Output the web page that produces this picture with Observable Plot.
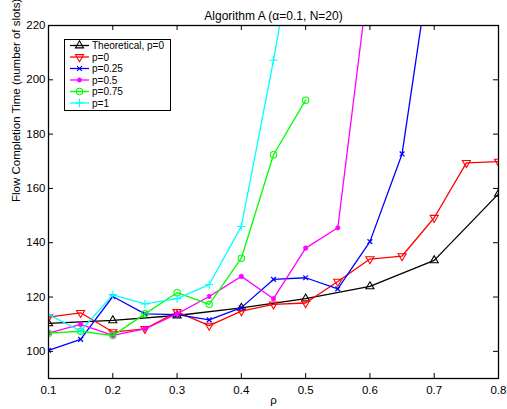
<!DOCTYPE html>
<html>
<head>
<meta charset="utf-8">
<script src="https://cdn.jsdelivr.net/npm/d3@7"></script>
<script src="https://cdn.jsdelivr.net/npm/@observablehq/plot@0.6"></script>
<style>
  html, body { margin: 0; padding: 0; background: white; }
  svg { display: block; }
</style>
</head>
<body>
<div id="chart"></div>
<script>
const titleText = "Algorithm A (\u03b1=0.1, N=20)";
const xLabel = "\u03c1";
const yLabel = "Flow Completion Time (number of slots)";

const xTicks = [0.1, 0.2, 0.3, 0.4, 0.5, 0.6, 0.7, 0.8];
const yTicks = [100, 120, 140, 160, 180, 200, 220];

const rhoTheory = [0.1, 0.2, 0.3, 0.4, 0.5, 0.6, 0.7, 0.8];
const theory = [110.3, 111.4, 113.2, 116.0, 119.4, 123.9, 133.5, 158.0];

const rho = [0.1, 0.15, 0.2, 0.25, 0.3, 0.35, 0.4, 0.45, 0.5, 0.55, 0.6, 0.65, 0.7, 0.75, 0.8];
const p0   = [112.6, 114.2, 107.1, 108.3, 114.5, 109.5, 114.8, 117.3, 117.8, 125.7, 134.0, 135.1, 149.2, 169.4, 169.9];
const p025 = [100.4, 104.4, 120.2, 113.8, 113.5, 111.6, 116.1, 126.5, 127.1, 123.0, 140.4, 172.7, 252.7];
const p05  = [106.7, 109.9, 105.9, 108.3, 113.8, 120.2, 127.6, 119.4, 138.0, 145.5, 241.0];
const p075 = [106.7, 107.4, 105.8, 113.8, 121.6, 117.3, 134.3, 172.4, 192.5];
const p1   = [113.5, 107.5, 120.8, 117.5, 119.4, 124.6, 146.0, 207.2, 274.0];

const seriesNames = ["Theoretical, p=0", "p=0", "p=0.25", "p=0.5", "p=0.75", "p=1"];
const seriesColors = ["#000000", "#ff0000", "#0000ff", "#ff00ff", "#00ff00", "#00ffff"];
const seriesSymbols = ["triangle", "triangle", "times", "asterisk", "circle", "plus"];
const seriesRotate = [0, 180, 0, 0, 0, 0];
const seriesR = [3.0, 3.0, 2.3, 2.4, 3.2, 2.8];
const seriesSW = [1.1, 1.1, 1.2, 1.8, 1.1, 1.1];

const seriesData = [
  theory.map((v, i) => ({x: rhoTheory[i], y: v})),
  p0.map((v, i) => ({x: rho[i], y: v})),
  p025.map((v, i) => ({x: rho[i], y: v})),
  p05.map((v, i) => ({x: rho[i], y: v})),
  p075.map((v, i) => ({x: rho[i], y: v})),
  p1.map((v, i) => ({x: rho[i], y: v}))
];

const W = 507, H = 409;
const mT = 25, mR = 9, mB = 31, mL = 48;
const fw = W - mL - mR, fh = H - mT - mB;
const tickLen = 5;

const seriesMarks = [];
seriesData.forEach((d, k) => {
  seriesMarks.push(Plot.line(d, {x: "x", y: "y", stroke: seriesColors[k], strokeWidth: 1.3, clip: true}));
  seriesMarks.push(Plot.dot(d, {x: "x", y: "y", stroke: seriesColors[k], fill: "none",
    symbol: seriesSymbols[k], rotate: seriesRotate[k], r: seriesR[k],
    strokeWidth: seriesSW[k], clip: true}));
});

const chart = Plot.plot({
  width: W, height: H,
  marginTop: mT, marginRight: mR, marginBottom: mB, marginLeft: mL,
  x: {domain: [0.1, 0.8], label: null},
  y: {domain: [90, 220], label: null},
  style: {fontFamily: "'Liberation Sans', Arial, Helvetica, sans-serif", fontSize: "11.5px", color: "black", background: "white"},
  marks: [
    ...seriesMarks,
    Plot.frame({stroke: "black", strokeWidth: 1.3}),
    Plot.tickX(xTicks, {x: d => d, insetTop: fh - tickLen, stroke: "black"}),
    Plot.tickX(xTicks, {x: d => d, insetBottom: fh - tickLen, stroke: "black"}),
    Plot.tickY(yTicks, {y: d => d, insetRight: fw - tickLen, stroke: "black"}),
    Plot.tickY(yTicks, {y: d => d, insetLeft: fw - tickLen, stroke: "black"}),
    Plot.axisX(xTicks, {tickSize: 0, tickPadding: 7, tickFormat: d => d.toFixed(1), label: null, fontSize: 11.5}),
    Plot.axisY(yTicks, {tickSize: 0, tickPadding: 3, label: null, fontSize: 11.5}),
    Plot.text([titleText], {text: d => d, frameAnchor: "top", dy: -14, fontSize: 12}),
    Plot.text([xLabel], {text: d => d, frameAnchor: "bottom", dy: 25, fontSize: 11.5}),
    Plot.text([yLabel], {text: d => d, frameAnchor: "left", dx: -32, rotate: -90, fontSize: 11.5})
  ]
});

document.getElementById("chart").appendChild(chart);

// Legend
const svg = d3.select(chart);
const lg = svg.append("g")
  .attr("font-family", "'Liberation Sans', Arial, Helvetica, sans-serif")
  .attr("font-size", 10)
  .attr("text-anchor", "start");
const bx = 64.5, by = 39.5, bw = 106, bh = 71;
lg.append("rect").attr("x", bx).attr("y", by).attr("width", bw).attr("height", bh)
  .attr("fill", "white").attr("stroke", "black").attr("stroke-width", 1);
const symMap = {triangle: d3.symbolTriangle, times: d3.symbolTimes, asterisk: d3.symbolAsterisk, circle: d3.symbolCircle, plus: d3.symbolPlus};
seriesNames.forEach((name, k) => {
  const yy = 45.5 + k * 11.5;
  lg.append("line").attr("x1", 70).attr("x2", 89).attr("y1", yy).attr("y2", yy)
    .attr("stroke", seriesColors[k]).attr("stroke-width", 1.3);
  const r = seriesR[k];
  lg.append("path").attr("d", d3.symbol(symMap[seriesSymbols[k]], r * r * Math.PI)())
    .attr("transform", `translate(79.5,${yy}) rotate(${seriesRotate[k]})`)
    .attr("fill", "none").attr("stroke", seriesColors[k]).attr("stroke-width", seriesSW[k]);
  lg.append("text").attr("x", 92).attr("y", yy).attr("dy", "0.35em").attr("fill", "black").text(name);
});
</script>
</body>
</html>
